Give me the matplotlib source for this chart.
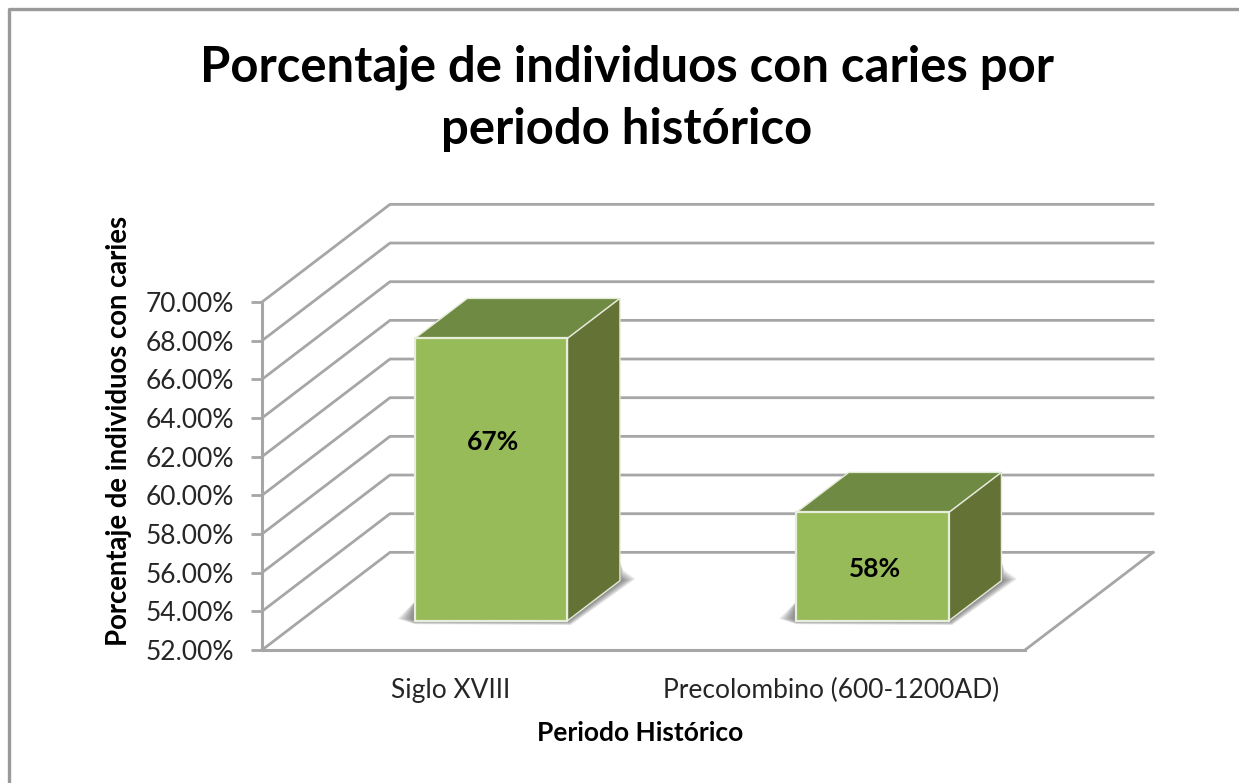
import numpy as np
import matplotlib.pyplot as plt
from matplotlib.patches import Polygon
from matplotlib.lines import Line2D

W, H = 1239, 783

categories = ['Siglo XVIII', 'Precolombino (600-1200AD)']
values = [66.6, 57.6]
value_labels = ['67%', '58%']
y_ticks = [52, 54, 56, 58, 60, 62, 64, 66, 68, 70]

title = 'Porcentaje de individuos con caries por\nperiodo histórico'
x_title = 'Periodo Histórico'
y_title = 'Porcentaje de individuos con caries'

GRID = '#a6a6a6'
FRONT = '#97bb59'
TOP = '#6f8b43'
SIDE = '#647236'
TEXT = '#262626'

# oblique projection of the floor depth (0 front, 1 back wall)
DX = 0.3355
DY = 5.05
BAR_W = 0.4
D0, D1 = 0.30, 0.71
LABEL_SHIFT = [1.95, -0.1]


def pr(x, v, d):
    return x + DX * d, v + DY * d


plt.rcParams['font.family'] = ['Lato', 'DejaVu Sans']
fig = plt.figure(figsize=(W / 100, H / 100), dpi=100)
ax = fig.add_axes([262 / W, 1 - 650 / H, (1025 - 262) / W, (650 - 302) / H])
ax.set_xlim(0, 2)
ax.set_ylim(52, 70)
for s in ['top', 'right']:
    ax.spines[s].set_visible(False)
for s in ['left', 'bottom']:
    ax.spines[s].set_color(GRID)
    ax.spines[s].set_linewidth(2.2)

ax.set_yticks(y_ticks)
ax.set_yticklabels([f'{t:.2f}%' for t in y_ticks], fontsize=19, color=TEXT)
ax.tick_params(axis='y', length=8, width=2, color=GRID, pad=12)
ax.set_xticks([0.494, 1.493])
ax.set_xticklabels(categories, fontsize=19, color=TEXT)
ax.tick_params(axis='x', length=0, pad=20)
ax.set_xlabel(x_title, fontsize=19, fontweight='bold', color='black', labelpad=13, x=0.4955)
ax.set_ylabel(y_title, fontsize=19.8, fontweight='bold', color='black')
ax.yaxis.set_label_coords(-0.17, 0.63)

# walls
for t in y_ticks:
    x0, v0 = pr(0, t, 0)
    x1, v1 = pr(0, t, 1)
    x2, v2 = pr(2, t, 1)
    ax.add_line(Line2D([x0, x1, x2], [v0, v1, v2], color=GRID, lw=2, clip_on=False, zorder=1))
x1, v1 = pr(2, 52, 0)
x2, v2 = pr(2, 52, 1)
ax.add_line(Line2D([x1, x2], [v1, v2], color=GRID, lw=2, clip_on=False, zorder=1))

# bars
for i, val in enumerate(values):
    l, r = i + 0.5 - BAR_W / 2, i + 0.5 + BAR_W / 2
    fl = pr(l, 52, D0)
    fr = pr(r, 52, D0)
    ftl = pr(l, val, D0)
    ftr = pr(r, val, D0)
    btl = pr(l, val, D1)
    btr = pr(r, val, D1)
    bbr = pr(r, 52, D1)
    # soft shadow on the floor, stacked from wide and faint to tight and dark
    for k in np.linspace(0.045, 0.006, 8):
        sh = [(fl[0] - k, fl[1] + 0.1), (fl[0], fl[1] - k * 4), (fr[0] + k * 0.2, fr[1] - k * 5),
              (bbr[0] + k * 0.9, bbr[1] + k * 2), (bbr[0] + k * 0.2, bbr[1] + k * 12),
              (bbr[0], bbr[1] + 1), fr, (fl[0], fl[1] + 1)]
        ax.add_patch(Polygon(sh, closed=True, fc='#3a3a3a', ec='none', alpha=0.1, clip_on=False, zorder=2))
    ax.add_patch(Polygon([ftl, ftr, btr, btl], closed=True, fc=TOP, ec='#e4ead8', lw=1.0, clip_on=False, zorder=3))
    ax.add_patch(Polygon([fr, bbr, btr, ftr], closed=True, fc=SIDE, ec='#e4ead8', lw=1.0, clip_on=False, zorder=3))
    ax.add_patch(Polygon([fl, fr, ftr, ftl], closed=True, fc=FRONT, ec='#e8eedc', lw=1.6, clip_on=False, zorder=4))
    cx = (fl[0] + fr[0]) / 2 + 0.005
    cy = (fl[1] + ftl[1]) / 2 + LABEL_SHIFT[i]
    ax.text(cx, cy, value_labels[i], ha='center', va='center', fontsize=19,
            fontweight='bold', color='black', zorder=5)

fig.text(627 / W, 1 - 98 / H, title, ha='center', va='center', fontsize=35.3, fontweight='bold',
         color='black', linespacing=1.46)

# chart area border (cropped at right and bottom)
fig.add_artist(Line2D([9 / W, 9 / W, 1], [0, 1 - 9 / H, 1 - 9 / H], color='#9a9a9a', lw=2.4))

fig.savefig('out.png', dpi=100)
